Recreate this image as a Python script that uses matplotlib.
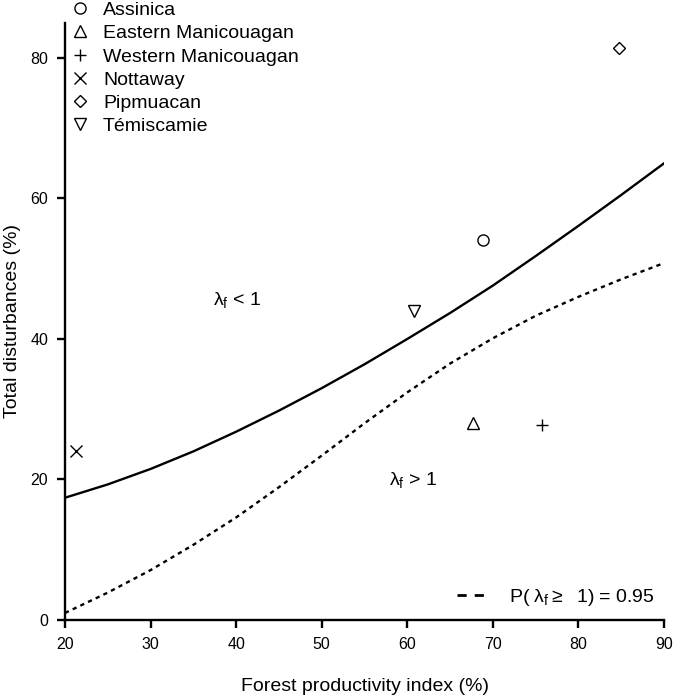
import numpy as np
import matplotlib
matplotlib.use('Agg')
import matplotlib.pyplot as plt
from matplotlib.lines import Line2D

plt.rcParams['font.family'] = ['Liberation Sans', 'DejaVu Sans']
plt.rcParams['mathtext.fontset'] = 'custom'
plt.rcParams['mathtext.rm'] = 'Liberation Sans'
plt.rcParams['mathtext.it'] = 'Liberation Sans'

# sites
sites = ['Assinica', 'Eastern Manicouagan', 'Western Manicouagan', 'Nottaway', 'Pipmuacan', 'Témiscamie']
site_x = [68.9, 67.7, 75.8, 21.3, 84.7, 60.8]
site_y = [54.1, 28.0, 27.8, 24.0, 81.4, 44.0]
site_mk = ['o', '^', '+', 'x', 'D', 'v']

# threshold curves
curve_x = [20, 25, 30, 35, 40, 45, 50, 55, 60, 65, 70, 75, 80, 85, 90]
solid_y = [17.4, 19.3, 21.5, 24.0, 26.8, 29.8, 33.0, 36.4, 40.0, 43.7, 47.6, 51.8, 56.1, 60.5, 65.0]
dotted_y = [1.0, 3.9, 7.1, 10.7, 14.6, 18.9, 23.4, 28.0, 32.4, 36.5, 40.1, 43.3, 46.0, 48.5, 50.8]

fig = plt.figure(figsize=(6.75, 6.96), dpi=100)
ax = fig.add_axes([0.0963, 0.1092, 0.8874, 0.858])

ax.plot(curve_x, solid_y, color='black', lw=1.7)
ax.plot(curve_x, dotted_y, color='black', lw=1.7, linestyle=(0, (1.8, 1.8)))

handles = []
for name, x, y, m in zip(sites, site_x, site_y, site_mk):
    ms = 6.5 if m == 'D' else 8
    h, = ax.plot([x], [y], linestyle='none', marker=m, markersize=ms,
                 markerfacecolor='none', markeredgecolor='black', markeredgewidth=1.0,
                 label=name, clip_on=False)
    handles.append(h)

leg1 = ax.legend(handles=handles, loc='upper left', bbox_to_anchor=(0.105, 0.998),
                 bbox_transform=fig.transFigure, frameon=False, fontsize=14,
                 borderpad=0, borderaxespad=0, handlelength=0.95, handletextpad=0.7,
                 labelspacing=0.29)
ax.add_artist(leg1)

proxy = Line2D([], [], color='black', lw=2, linestyle=(0, (3.3, 2.9)))
ax.legend(handles=[proxy], labels=[r'P( $\mathrm{\lambda}_{\mathrm{f}}$$\geq$  1) = 0.95'],
          loc='center right', bbox_to_anchor=(0.97, 0.142), bbox_transform=fig.transFigure,
          frameon=False, fontsize=14, borderpad=0, borderaxespad=0,
          handlelength=1.45, handletextpad=1.2)

ax.text(40.1, 45.6, r'$\mathrm{\lambda}_{\mathrm{f}}$ < 1', fontsize=14, ha='center', va='center')
ax.text(60.7, 19.9, r'$\mathrm{\lambda}_{\mathrm{f}}$ > 1', fontsize=14, ha='center', va='center')

ax.set_xlim(20, 90)
ax.set_ylim(0, 85)
ax.set_xticks([20, 30, 40, 50, 60, 70, 80, 90])
ax.set_yticks([0, 20, 40, 60, 80])
ax.spines['top'].set_visible(False)
ax.spines['right'].set_visible(False)
ax.spines['left'].set_linewidth(1.7)
ax.spines['bottom'].set_linewidth(1.7)
ax.tick_params(direction='out', length=6, width=1.7, labelsize=11.5, pad=6)
ax.set_xlabel('Forest productivity index (%)', fontsize=14, labelpad=19)
ax.set_ylabel('Total disturbances (%)', fontsize=14)
ax.yaxis.set_label_coords(-0.073, 0.5)

plt.savefig('out.png', dpi=100)
